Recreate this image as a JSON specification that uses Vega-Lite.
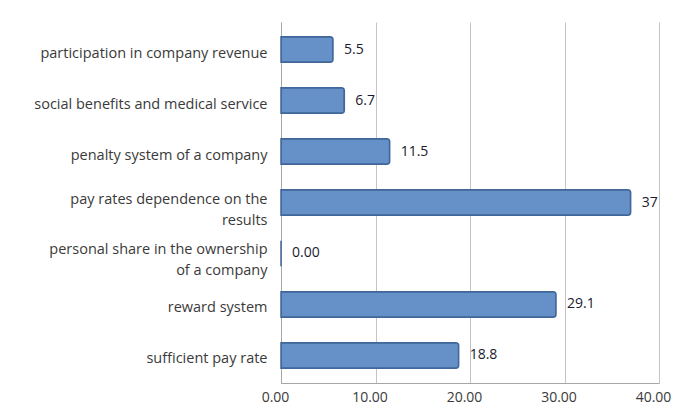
{
  "$schema": "https://vega.github.io/schema/vega-lite/v6.json",
  "autosize": "none",
  "width": 378,
  "height": 361,
  "padding": {"left": 281, "top": 22, "right": 25, "bottom": 25},
  "background": "white",
  "config": {"view": {"stroke": null}, "font": "Open Sans"},
  "data": {"values": [
    {"category": "participation in company revenue", "value": 5.5, "label": "5.5"},
    {"category": "social benefits and medical service", "value": 6.7, "label": "6.7"},
    {"category": "penalty system of a company", "value": 11.5, "label": "11.5"},
    {"category": "pay rates dependence on the|results", "value": 37, "label": "37"},
    {"category": "personal share in the ownership|of a  company", "value": 0, "label": "0.00"},
    {"category": "reward system", "value": 29.1, "label": "29.1"},
    {"category": "sufficient pay rate", "value": 18.8, "label": "18.8"}
  ]},
  "encoding": {
    "y": {"field": "category", "type": "nominal", "sort": null,
      "scale": {"paddingInner": 0.5, "paddingOuter": 0.29},
      "axis": {"title": null, "ticks": false, "labelPadding": 14, "labelFontSize": 14.5,
        "labelColor": "#3a3a3a", "labelLimit": 300,
        "labelExpr": "split(datum.value, '|')", "labelLineHeight": 21,
        "labelOffset": {"condition": {"test": "indexof(datum.value, '|') >= 0", "value": -3}, "value": 4},
        "domainColor": "#a6a6a6", "grid": false}},
    "x": {"field": "value", "type": "quantitative",
      "scale": {"domain": [0, 40], "nice": false},
      "axis": {"title": null, "values": [0, 10, 20, 30, 40], "format": ".2f",
        "labelFontSize": 14, "labelColor": "#3a3a3a", "ticks": false, "labelPadding": 7,
        "labelOffset": -6,
        "labelFlush": false, "labelBound": false,
        "domainColor": "#a6a6a6", "gridColor": "#c4c4c4", "grid": true}}
  },
  "layer": [
    {"mark": {"type": "bar", "fill": "#6590c8", "stroke": "#41679a", "strokeWidth": 1.5, "cornerRadiusEnd": 3}},
    {"mark": {"type": "text", "align": "left", "dx": 11, "fontSize": 14, "color": "#1a1a2e"},
      "encoding": {"text": {"field": "label"}}}
  ]
}
